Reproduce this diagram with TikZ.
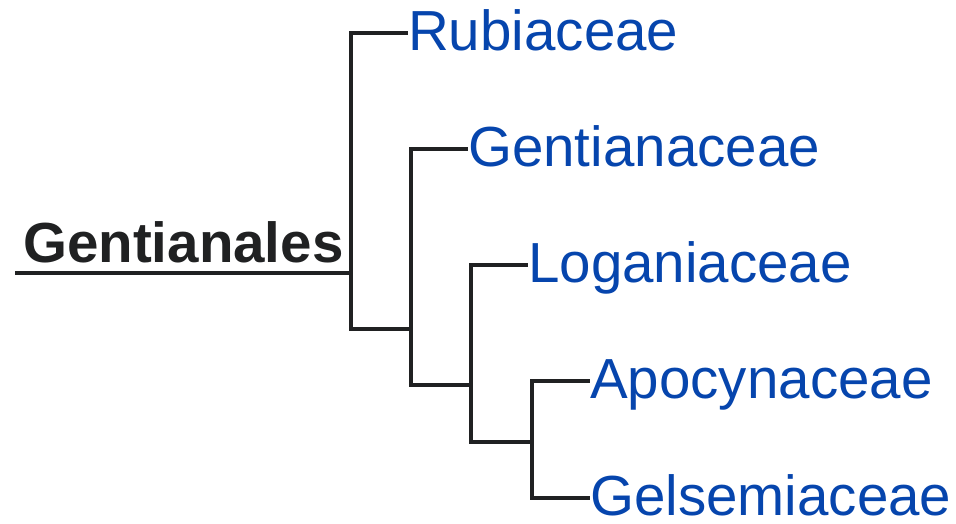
\documentclass[tikz,border=0pt]{standalone}
\usepackage{fontspec}
\setmainfont{Liberation Sans}
\definecolor{linkblue}{RGB}{6,69,173}
\definecolor{inkgrey}{RGB}{32,33,34}
\tikzset{
  branch/.style={draw=inkgrey, line width=3.4pt},
  taxon/.style={anchor=west, inner sep=0pt, text height=35pt, text depth=0pt,
    text=linkblue, font=\fontsize{56.5}{60}\selectfont},
  ordo/.style={anchor=base west, inner sep=0pt, text=inkgrey,
    font=\fontsize{56.5}{60}\selectfont\bfseries},
}
\begin{document}
\begin{tikzpicture}[x=1pt, y=-1pt] % {{{
\useasboundingbox (0,0) rectangle (956,523);
% Nodos internos   {{{
\coordinate (base) at (15,273) ;
\coordinate (n1) at (351,273) ;
\coordinate (n2) at (411,329) ;
\coordinate (n3) at (471,385) ;
\coordinate (n4) at (532,442) ; % }}}
% Familias   {{{
\node[ordo] (gentianales) at (23,262) {Gentianales} ;
\node[taxon] (rubiaceae) at (408,33) {Rubiaceae} ;
\node[taxon] (gentianaceae) at (468,149) {Gentianaceae} ;
\node[taxon] (loganiaceae) at (528,265) {Loganiaceae} ;
\node[taxon] (apocynaceae) at (590,381) {Apocynaceae} ;
\node[taxon] (gelsemiaceae) at (590,498) {Gelsemiaceae} ; % }}}
% Ramas   {{{
\draw[branch] (base) -- (n1) ;
\draw[branch] (n1) |- (rubiaceae.west) ;
\draw[branch] (n1) |- (n2) ;
\draw[branch] (n2) |- (gentianaceae.west) ;
\draw[branch] (n2) |- (n3) ;
\draw[branch] (n3) |- (loganiaceae.west) ;
\draw[branch] (n3) |- (n4) ;
\draw[branch] (n4) |- (apocynaceae.west) ;
\draw[branch] (n4) |- (gelsemiaceae.west) ; % }}}
\end{tikzpicture} % }}}
\end{document}
